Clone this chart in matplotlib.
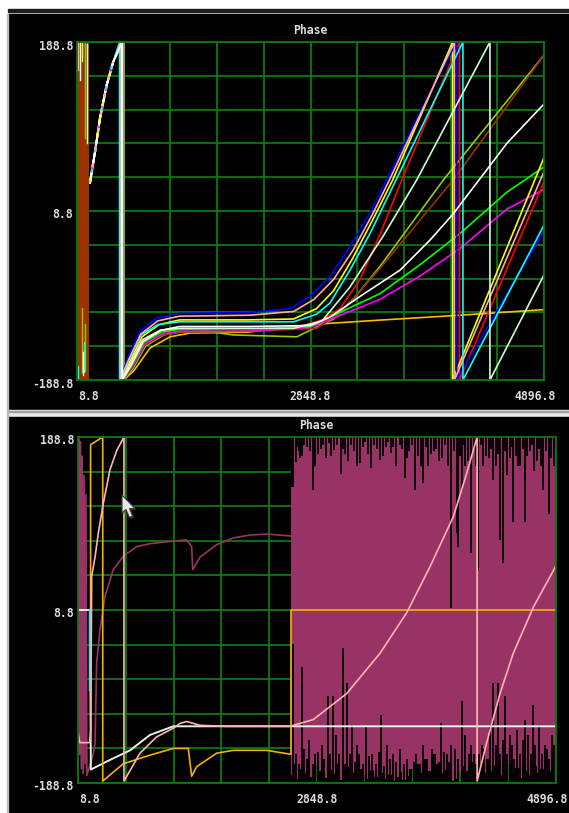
import numpy as np
import matplotlib
matplotlib.use("Agg")
import matplotlib.pyplot as plt
from matplotlib.patches import Rectangle, Polygon

# ------------------------------------------------------------------ data
title_text = "Phase"
x_tick_pos = [0, 2048, 4096]
x_tick_labels = ["8.8", "2848.8", "4896.8"]
y_tick_pos = [180, 0, -180]
y_tick_labels = ["188.8", "8.8", "-188.8"]

# ---- top panel: shared first arc of all traces
arc_x = [114, 158, 202, 260, 318]
arc_y = [30, 63, 99, 134, 159]

blue_x = [378, 378, 450, 553, 700, 900, 1517, 1868, 2044, 2219, 2394, 2570, 2716, 3000, 3330, 3330, 4096]
blue_y = [180, -180, -155, -128, -114, -109, -108, -104, -91, -70, -38, -2, 33, 103, 180, -180, -21]
pink_x = [385, 385, 460, 560, 710, 900, 1517, 1900, 2080, 2250, 2420, 2590, 2740, 3310, 3310, 4096]
pink_y = [180, -180, -157, -131, -117, -112, -111, -107, -94, -73, -42, -4, 33, 180, -180, 42]
yellow_x = [388, 388, 465, 570, 720, 900, 1500, 1900, 2100, 2250, 2420, 2600, 2769, 3295, 3295, 4096]
yellow_y = [180, -180, -160, -134, -121, -116, -116, -115, -104, -85, -50, -8, 33, 180, -180, 57]
cyan_x = [374, 374, 455, 560, 710, 900, 1500, 1900, 2100, 2219, 2394, 2570, 2798, 3385, 3385, 4096]
cyan_y = [180, -180, -158, -132, -121, -118, -118, -118, -110, -98, -63, -24, 33, 180, -180, -15]
red_x = [395, 395, 470, 580, 730, 900, 1500, 1900, 2150, 2307, 2482, 2658, 2848, 3355, 3355, 4096]
red_y = [180, -180, -163, -138, -127, -125, -126, -125, -116, -104, -73, -25, 33, 180, -180, 31]
mint_x = [392, 392, 470, 575, 730, 900, 1500, 1900, 2150, 2394, 2684, 2979, 3622, 3622, 4096]
mint_y = [180, -180, -162, -137, -127, -125, -125, -125, -117, -81, -27, 33, 180, -180, -68]
white_x = [398, 398, 475, 580, 740, 900, 1500, 2044, 2219, 2482, 2833, 3096, 3300, 3770, 4096]
white_y = [180, -180, -164, -139, -127, -123, -123, -122, -113, -91, -63, -31, -3, 72, 114]
green_x = [400, 400, 478, 585, 740, 900, 1500, 2044, 2394, 2658, 3000, 3359, 3770, 4096]
green_y = [180, -180, -165, -140, -129, -126, -126, -123, -103, -88, -58, -24, 20, 47]
magenta_x = [402, 402, 480, 590, 745, 900, 1500, 2044, 2394, 2658, 3000, 3359, 3770, 4096]
magenta_y = [180, -180, -166, -142, -131, -128, -128, -124, -107, -94, -70, -40, 2, 23]
brown_x = [405, 405, 485, 595, 750, 900, 1500, 2100, 2307, 2658, 3300, 4096]
brown_y = [180, -180, -167, -143, -132, -129, -128, -125, -109, -61, 33, 166]
orange_x = [410, 410, 500, 640, 816, 991, 1500, 2044, 2684, 3359, 4096]
orange_y = [180, -180, -170, -146, -134, -130, -129, -121, -116, -111, -105]
olive_x = [408, 408, 490, 600, 760, 900, 1140, 1368, 1929, 2044, 2250, 2450, 2658, 3213, 4096]
olive_y = [180, -180, -168, -144, -132, -129, -128, -132, -134, -127, -115, -90, -59, 33, 166]

# brown noise band at the start (x range) and small fragments inside it
band_x = [0, 108]
frag_colors = ['#99cc00', '#ccffcc', '#ffaaaa', '#ffffff', '#ffff00',
               '#99cc00', '#99cc00', '#00ffff', '#ffffff', '#00ffff']
frag_x = [66, 92, 10, 25, 40, 40, 72, 60, 50, 5]
frag_y0 = [180, 178, 180, 180, 180, -103, -120, -140, -150, -165]
frag_y1 = [78, 72, 150, 140, 160, -171, -170, -172, -175, -180]

# ---- bottom panel
plum_x = [0, 8, 14, 20, 28, 36, 44, 52, 60, 68, 76, 130, 146, 160, 188, 231, 302, 388, 503,
          617, 760, 931, 974, 983, 1045, 1188, 1331, 1474, 1617, 1825]
plum_y = [-140, 178, -150, 175, -165, 160, -170, 140, -160, 120, -172, -150, -139, -55, -21,
          14, 42, 56, 66, 69, 71, 73, 66, 42, 55, 68, 75, 78, 79, 77]
gold_x = [108, 108, 212, 212, 388, 617, 817, 945, 974, 1017, 1188, 1331, 1617, 1817, 1825, 1825, 4096]
gold_y = [0, 172, 180, -178, -160, -151, -144, -144, -173, -163, -149, -146, -146, -150, -150, 0, 0]
mintb_x = [0, 107, 107, 110, 274, 446, 617, 817, 4096]
mintb_y = [0, 0, -83, -166, -156, -146, -130, -121, -121]
cyanb_x = [107, 107]
cyanb_y = [0, -83]
pinkb_x = [0, 15, 60, 100, 109, 117, 146, 174, 217, 274, 332, 394, 394, 531, 674, 817, 874,
           931, 1045, 1274, 1825, 1845, 2016, 2302, 2588, 2816, 3016, 3216, 3330, 3420, 3420,
           3500, 3616, 3730, 3902, 4096]
pinkb_y = [-127, -138, -138, -138, -125, 35, 55, 80, 111, 146, 166, 180, -178, -149, -132, -123,
           -118, -116, -120, -121, -121, -120, -114, -87, -45, -3, 45, 97, 142, 180, -178,
           -139, -87, -45, 3, 46]

noise_start, noise_end = 1825, 4096
noise_lo = [-172, -160, -176, -165, -170, -158, -174, -162, -168, -155, -175, -166, -171, -160,
            -177, -168, -163, -174, -170, -178, -165, -172, -176, -168, -174, -178, -170, -176,
            -172, -178, -174, -169, -177, -173, -165, -175, -160, -170, -155, -168, -150, -162,
            -158, -170, -166, -174, -178, -176, -170, -162, -168, -158, -172, -165, -160, -170,
            -155, -168, -162, -158, -172, -166, -160, -170, -164, -175, -160, -168, -172, -162,
            -170, -165, -174, -168, -160, -172]
spike_top_x = [1832, 1842, 1868, 1880, 1890, 1905, 1920, 1940, 1960, 1985, 2016, 2035, 2060,
               2080, 2100, 2125, 2150, 2170, 2195, 2220, 2251, 2270, 2290, 2315, 2340, 2365,
               2390, 2416, 2440, 2460, 2485, 2510, 2535, 2560, 2585, 2610, 2635, 2660, 2680,
               2700, 2725, 2760, 2780, 2802, 2820, 2840, 2860, 2888, 2910, 2935, 2959, 2980,
               3000, 3025, 3050, 3070, 3090, 3120, 3145, 3170, 3196, 3220, 3244, 3259, 3275,
               3290, 3305, 3320, 3340, 3365, 3395, 3410, 3431, 3450, 3470, 3495, 3520, 3540,
               3560, 3585, 3600, 3616, 3645, 3660, 3680, 3700, 3715, 3730, 3750, 3770, 3790,
               3810, 3830, 3850, 3870, 3890, 3910, 3930, 3950, 3970, 3987, 4010, 4039, 4055,
               4075, 4085]
spike_top_y = [128, 128, 154, 170, 165, 158, 160, 172, 170, 165, 125, 150, 162, 168, 172, 158,
               174, 160, 166, 172, 142, 168, 162, 155, 172, 165, 150, 153, 170, 175, 162, 148,
               172, 168, 156, 160, 170, 175, 163, 170, 150, 172, 168, 137, 158, 165, 172, 125,
               160, 150, 132, 170, 150, 162, 165, 168, 155, 158, 172, 150, 2, 165, 80, 66, 160,
               125, 172, 150, 155, 59, 168, 150, 42, 172, 150, 160, 158, 168, 135, 150, 162, 73,
               49, 165, 140, 158, 170, 92, 160, 150, 150, 168, 92, 160, 165, 172, 145, 155, 168,
               150, 125, 165, 100, 158, 150, 170]
spike_bot_x = [1845, 1870, 1895, 1917, 1940, 1960, 1982, 2010, 2030, 2060, 2090, 2110, 2145,
               2160, 2182, 2215, 2240, 2268, 2285, 2308, 2330, 2350, 2370, 2390, 2410, 2440,
               2468, 2490, 2520, 2550, 2575, 2594, 2620, 2650, 2675, 2700, 2725, 2760, 2790,
               2820, 2850, 2880, 2900, 2930, 2960, 2990, 3030, 3060, 3080, 3110, 3135, 3160,
               3180, 3200, 3230, 3260, 3288, 3320, 3350, 3370, 3390, 3410, 3440, 3460, 3480,
               3505, 3530, 3557, 3580, 3601, 3620, 3640, 3659, 3680, 3700, 3720, 3740, 3760,
               3790, 3810, 3830, 3860, 3880, 3902, 3920, 3950, 3975, 4000, 4020, 4040, 4060,
               4080]
spike_bot_y = [-35, -150, -160, -59, -145, -155, -135, -160, -150, -148, -140, -155, -90, -150,
               -90, -130, -150, -40, -160, -76, -150, -120, -158, -140, -150, -160, -121, -152,
               -150, -160, -148, -109, -162, -140, -155, -150, -158, -145, -160, -155, -165,
               -158, -150, -160, -140, -155, -145, -150, -160, -118, -148, -150, -158, -140,
               -145, -155, -95, -130, -150, -140, -150, -160, -150, -140, -145, -155, -120, -76,
               -140, -76, -150, -135, -90, -150, -130, -140, -155, -125, -150, -135, -114, -130,
               -150, -99, -140, -120, -150, -140, -145, -155, -130, -140]

# ------------------------------------------------------------------ styling
W, H = 569, 813
GRID = '#0b7a0b'
TXT = '#dcdcdc'
FONT = dict(family='DejaVu Sans Mono', weight='bold', size=8.3, color=TXT)

fig = plt.figure(figsize=(W / 100, H / 100), dpi=100, facecolor='white')

# background chrome (pixel coordinates)
bg = fig.add_axes([0, 0, 1, 1], zorder=0)
bg.set_xlim(0, W)
bg.set_ylim(H, 0)
bg.axis('off')
bg.add_patch(Rectangle((8, 9), W - 8, 3, color='#1c1c1c'))
bg.add_patch(Rectangle((8, 14), W - 8, 396, color='black'))
bg.add_patch(Rectangle((8, 410), W - 8, 7, color='#e8e8e8'))
bg.add_patch(Rectangle((8, 410.5), W - 8, 1.2, color='#a0a0a0'))
bg.add_patch(Rectangle((8, 417), W - 8, H - 417, color='black'))
bg.add_patch(Rectangle((7, 14), 1, H - 14, color='#b8b8b8'))


def make_axes(l, t, r, b):
    ax = fig.add_axes([l / W, 1 - b / H, (r - l) / W, (b - t) / H], zorder=1)
    ax.set_facecolor('black')
    ax.set_xlim(0, 4096)
    ax.set_ylim(-180, 180)
    ax.set_xticks(np.linspace(0, 4096, 11))
    ax.set_yticks(np.linspace(-180, 180, 11))
    ax.tick_params(length=0, labelbottom=False, labelleft=False)
    ax.grid(True, color=GRID, lw=1.3)
    ax.set_axisbelow(True)
    for s in ax.spines.values():
        s.set_color(GRID)
        s.set_linewidth(1.3)
        s.set_zorder(10)
    return ax


def labels(ax, ydy, xdy):
    for v, t in zip(y_tick_pos, y_tick_labels):
        ax.annotate(t, xy=(0, v), xytext=(-4, ydy), textcoords='offset pixels',
                    ha='right', va='center', annotation_clip=False, **FONT)
    offs = [(1, 'left'), (0, 'center'), (12, 'right')]
    for v, t, (dx, ha) in zip(x_tick_pos, x_tick_labels, offs):
        ax.annotate(t, xy=(v, -180), xytext=(dx, xdy), textcoords='offset pixels',
                    ha=ha, va='center', annotation_clip=False, **FONT)


LW = 1.2
# ---------------- top panel
ax1 = make_axes(77, 42, 544, 380)
ax1.fill_between(band_x, -180, 180, color='#993300', lw=0, zorder=2)
for c, fx, a, b in zip(frag_colors, frag_x, frag_y0, frag_y1):
    ax1.plot([fx, fx], [a, b], color=c, lw=1.0, zorder=2.2)

top_lines = [
    (orange_x, orange_y, '#ffbb00'),
    (olive_x, olive_y, '#99cc00'),
    (brown_x, brown_y, '#993300'),
    (magenta_x, magenta_y, '#ff00ff'),
    (green_x, green_y, '#00ff00'),
    (red_x, red_y, '#ff0000'),
    (yellow_x, yellow_y, '#ffff00'),
    (blue_x, blue_y, '#0000ff'),
    (cyan_x, cyan_y, '#00ffff'),
    (pink_x, pink_y, '#ffaaaa'),
    (mint_x, mint_y, '#ccffcc'),
    (white_x, white_y, '#ffffff'),
]
for xs, ys, c in top_lines:
    ax1.plot(arc_x + xs, arc_y + ys, color=c, lw=LW, zorder=3)
# the bundle of identical arcs shows as a multicoloured trace
for c, dash in [('#ffffff', (0, ())), ('#ffff00', (0, (2, 5))), ('#ff00ff', (3, (2, 7))),
                ('#00ffff', (5, (1.5, 8))), ('#ffaaaa', (1, (2, 6)))]:
    ax1.plot(arc_x, arc_y, color=c, lw=1.6, ls=dash, zorder=3.5)
labels(ax1, -4, -16)

# ---------------- bottom panel
PLUM = '#993366'
ax2 = make_axes(78, 437, 556, 783)
noise_x = np.linspace(noise_start, noise_end, len(noise_lo))
ax2.fill_between(noise_x, noise_lo, 180, step='mid', color=PLUM, lw=0, zorder=2)
ax2.vlines(spike_top_x, spike_top_y, 180, color='black', lw=1.3, zorder=2.5)
ax2.vlines(spike_bot_x, -180, spike_bot_y, color='black', lw=1.3, zorder=2.5)
ax2.plot(plum_x, plum_y, color=PLUM, lw=LW, zorder=3)
ax2.plot(mintb_x, mintb_y, color='#e4f2e4', lw=LW + 0.2, zorder=3)
ax2.plot(cyanb_x, cyanb_y, color='#33e0f0', lw=LW + 0.6, zorder=3.2)
ax2.plot(gold_x, gold_y, color='#f2b400', lw=LW, zorder=3.1)
ax2.plot(pinkb_x, pinkb_y, color='#ffb4b4', lw=LW, zorder=3.3)
labels(ax2, -3.5, -16)

# titles
fig.text(310 / W, 1 - 31 / H, title_text, ha='center', va='center', **FONT)
fig.text(316 / W, 1 - 425 / H, title_text, ha='center', va='center', **FONT)

# mouse cursor overlay (decoration)
ov = fig.add_axes([0, 0, 1, 1], zorder=20)
ov.set_xlim(0, W)
ov.set_ylim(H, 0)
ov.axis('off')
ov.patch.set_alpha(0)
cur = [(122, 495), (122, 513), (126, 509.5), (129.5, 517.5), (132.5, 516),
       (129.5, 508.5), (135, 508.5)]
ov.add_patch(Polygon([(x + 1.5, y + 1.5) for x, y in cur], closed=True,
                     facecolor='#555555', edgecolor='none', alpha=0.6))
ov.add_patch(Polygon(cur, closed=True, facecolor='#e6e6e6', edgecolor='#3a3a3a', lw=0.8))

fig.savefig('out.png', dpi=100, facecolor='white')
